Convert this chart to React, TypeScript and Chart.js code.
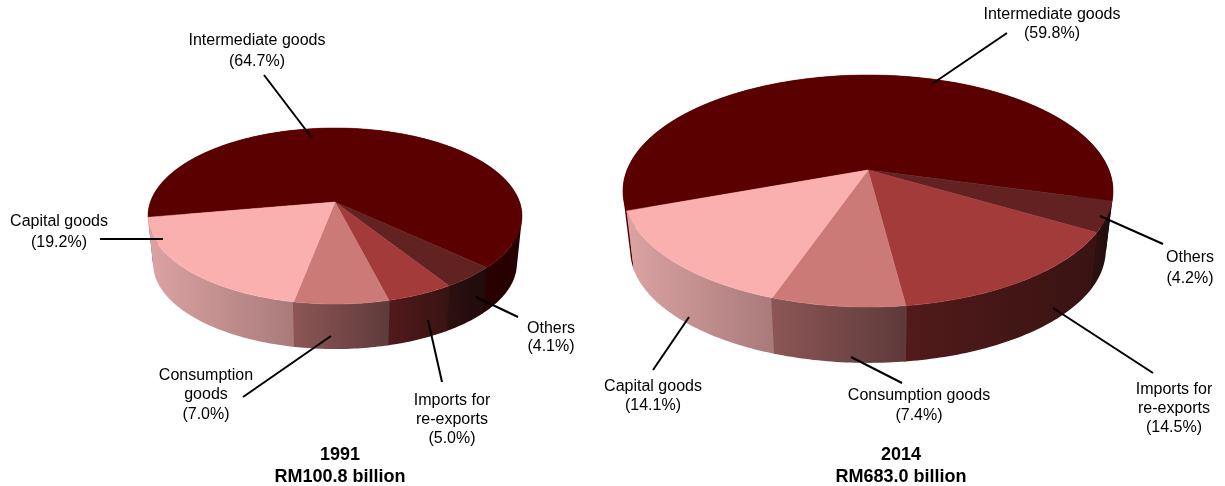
import React, { useEffect, useRef } from "react";
import { Chart, registerables } from "chart.js";

Chart.register(...registerables);

const categories = ["Intermediate goods", "Others", "Imports for re-exports", "Consumption goods", "Capital goods"];
const shares1991 = [64.7, 4.1, 5.0, 7.0, 19.2];
const shares2014 = [59.8, 4.2, 14.5, 7.4, 14.1];
const topColors = ["#5a0000", "#622222", "#a33b3b", "#cc7a78", "#fbb0b0"];
const wallStart = ["#560000", "#2c1010", "#521a1a", "#8d5656", "#dca3a3"];
const wallEnd = ["#260000", "#200b0b", "#381312", "#5e3a3a", "#a97a7a"];

const FONT = '"Liberation Sans", Arial, sans-serif';

type Note = { lines: string[]; x: number; ys: number[]; line: number[] };
type Geo = {
  rx: number; ry: number; p: number; k: number; dy: number;
  notes: Note[]; title: string[]; titleX: number; titleYs: number[];
};

const pie3d = {
  id: "pie3d",
  beforeDatasetDraw(chart: any) {
    const geo: Geo = chart.options.plugins.pie3d;
    const ctx: CanvasRenderingContext2D = chart.ctx;
    const arcs = chart.getDatasetMeta(0).data;
    const top = (a: any, angle: number) => {
      const u = Math.cos(angle), v = -Math.sin(angle);
      const s = 1 / (1 + geo.p * v);
      return [a.x + geo.rx * u * s, a.y - geo.ry * v * s];
    };
    const bottom = (a: any, angle: number) => {
      const [x, y] = top(a, angle);
      return [a.x + geo.k * (x - a.x), a.y + geo.dy + geo.k * (y - a.y)];
    };
    const sample = (a: any, pad = 0) => {
      const s = a.startAngle - pad, e = a.endAngle + pad;
      const n = Math.max(8, Math.ceil((e - s) * 60));
      const out: number[] = [];
      for (let i = 0; i <= n; i++) out.push(s + ((e - s) * i) / n);
      return out;
    };
    const order = arcs.map((_: any, i: number) => i).sort((i: number, j: number) => {
      const mid = (a: any) => Math.sin((a.startAngle + a.endAngle) / 2);
      return mid(arcs[i]) - mid(arcs[j]);
    });
    ctx.save();
    for (const i of order) {
      const a = arcs[i];
      const angles = sample(a, 0.004);
      const visible = angles.filter((q) => Math.sin(q) > -0.25);
      const vx = (visible.length ? visible : angles).map((q) => top(a, q)[0]);
      const grad = ctx.createLinearGradient(Math.min(...vx), 0, Math.max(...vx), 0);
      grad.addColorStop(0, wallStart[i]);
      grad.addColorStop(1, wallEnd[i]);
      ctx.beginPath();
      for (let n = 0; n < angles.length - 1; n++) {
        const quad = [top(a, angles[n]), top(a, angles[n + 1]), bottom(a, angles[n + 1]), bottom(a, angles[n])];
        let area = 0;
        quad.forEach((q, m) => {
          const r = quad[(m + 1) % 4];
          area += q[0] * r[1] - r[0] * q[1];
        });
        if (area < 0) quad.reverse();
        quad.forEach((q, m) => (m ? ctx.lineTo(q[0], q[1]) : ctx.moveTo(q[0], q[1])));
        ctx.closePath();
      }
      ctx.fillStyle = grad;
      ctx.fill("nonzero");
    }
    arcs.forEach((a: any, i: number) => {
      ctx.beginPath();
      ctx.moveTo(a.x, a.y);
      sample(a).forEach((q) => {
        const [x, y] = top(a, q);
        ctx.lineTo(x, y);
      });
      ctx.closePath();
      ctx.fillStyle = topColors[i];
      ctx.strokeStyle = topColors[i];
      ctx.lineWidth = 0.5;
      ctx.fill();
      ctx.stroke();
    });
    ctx.restore();
    return false;
  },
  afterDraw(chart: any) {
    const geo: Geo = chart.options.plugins.pie3d;
    const ctx: CanvasRenderingContext2D = chart.ctx;
    ctx.save();
    ctx.strokeStyle = "#000";
    ctx.lineWidth = 2;
    ctx.fillStyle = "#000";
    ctx.textAlign = "center";
    ctx.textBaseline = "middle";
    ctx.font = `16px ${FONT}`;
    geo.notes.forEach((note) => {
      ctx.beginPath();
      ctx.moveTo(note.line[0], note.line[1]);
      ctx.lineTo(note.line[2], note.line[3]);
      ctx.stroke();
      note.lines.forEach((text, i) => ctx.fillText(text, note.x, note.ys[i]));
    });
    ctx.font = `bold 18px ${FONT}`;
    geo.title.forEach((text, i) => ctx.fillText(text, geo.titleX, geo.titleYs[i]));
    ctx.restore();
  },
};

const geo1991: Geo = {
  rx: 184.6, ry: 85.8, p: 0.159, k: 0.973, dy: 47.8,
  title: ["1991", "RM100.8 billion"], titleX: 340, titleYs: [455, 477],
  notes: [
    { lines: ["Intermediate goods", "(64.7%)"], x: 257, ys: [41, 62], line: [264, 75, 312, 138] },
    { lines: ["Capital goods", "(19.2%)"], x: 59, ys: [222, 243], line: [100, 239, 163, 239] },
    { lines: ["Consumption", "goods", "(7.0%)"], x: 206, ys: [376, 395, 415], line: [243, 397, 331, 336] },
    { lines: ["Imports for", "re-exports", "(5.0%)"], x: 452, ys: [401, 420, 439], line: [442, 382, 428, 320] },
    { lines: ["Others", "(4.1%)"], x: 551, ys: [329, 347], line: [518, 317, 476, 297] },
  ],
};

const geo2014: Geo = {
  rx: 241, ry: 112.2, p: 0.181, k: 0.97, dy: 60,
  title: ["2014", "RM683.0 billion"], titleX: 301, titleYs: [455, 477],
  notes: [
    { lines: ["Intermediate goods", "(59.8%)"], x: 452, ys: [15, 34], line: [407, 33, 332, 84] },
    { lines: ["Others", "(4.2%)"], x: 590, ys: [258, 279], line: [563, 244, 500, 216] },
    { lines: ["Imports for", "re-exports", "(14.5%)"], x: 574, ys: [390, 409, 428], line: [553, 373, 453, 308] },
    { lines: ["Consumption goods", "(7.4%)"], x: 319, ys: [396, 416], line: [251, 357, 302, 383] },
    { lines: ["Capital goods", "(14.1%)"], x: 53, ys: [387, 406], line: [53, 370, 89, 317] },
  ],
};

function makeChart(canvas: HTMLCanvasElement, data: number[], rotation: number, padding: any, geo: Geo) {
  return new Chart(canvas, {
    type: "pie",
    data: { labels: categories, datasets: [{ data, backgroundColor: topColors, borderWidth: 0 }] },
    options: {
      animation: false,
      responsive: false,
      rotation,
      layout: { padding },
      plugins: { legend: { display: false }, tooltip: { enabled: false }, title: { display: false }, pie3d: geo } as any,
    },
    plugins: [pie3d as any],
  });
}

export default function App() {
  const left = useRef<HTMLCanvasElement>(null);
  const right = useRef<HTMLCanvasElement>(null);
  useEffect(() => {
    const a = makeChart(left.current!, shares1991, 260, { left: 70, bottom: 82 }, geo1991);
    const b = makeChart(right.current!, shares2014, 250, { right: 89, bottom: 146 }, geo2014);
    return () => {
      a.destroy();
      b.destroy();
    };
  }, []);
  return (
    <div style={{ position: "absolute", left: 0, top: 0, width: 1225, height: 486, background: "#fff" }}>
      <canvas ref={left} width={600} height={486} style={{ position: "absolute", left: 0, top: 0 }} />
      <canvas ref={right} width={625} height={486} style={{ position: "absolute", left: 600, top: 0 }} />
    </div>
  );
}
